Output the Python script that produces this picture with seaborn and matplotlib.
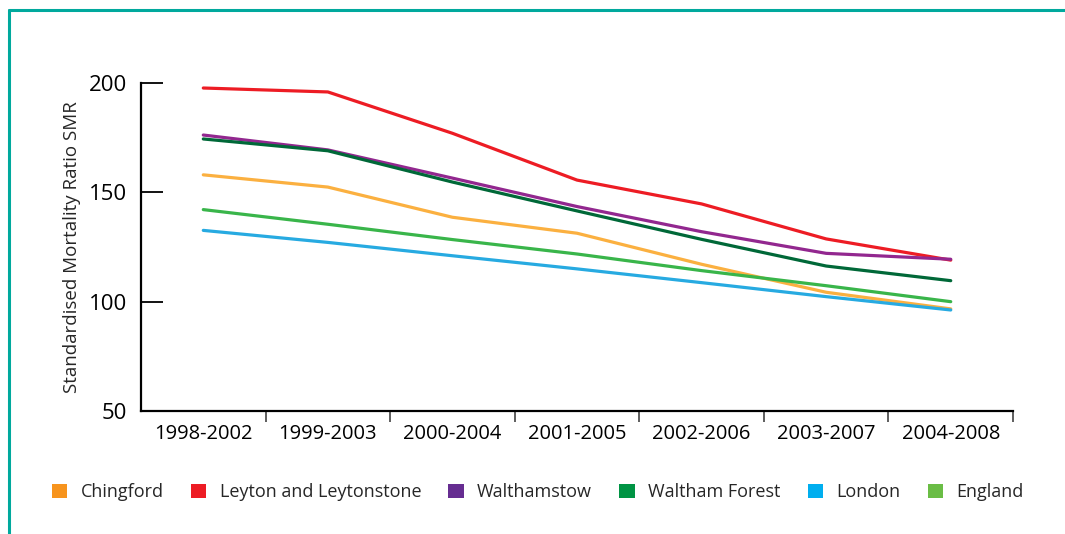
import pandas as pd
import matplotlib.pyplot as plt
import seaborn as sns
from matplotlib.patches import Patch
from matplotlib.lines import Line2D

# data
periods = ["1998-2002", "1999-2003", "2000-2004", "2001-2005", "2002-2006", "2003-2007", "2004-2008"]
chingford = [158.0, 152.4, 138.6, 131.3, 117.1, 104.3, 96.7]
leyton = [197.7, 195.9, 177.0, 155.6, 144.7, 128.7, 119.0]
walthamstow = [176.2, 169.4, 156.5, 143.5, 132.0, 122.1, 119.4]
waltham_forest = [174.4, 169.0, 154.7, 141.5, 128.5, 116.3, 109.6]
london = [132.6, 127.1, 121.0, 115.0, 108.7, 102.3, 96.2]
england = [142.1, 135.4, 128.4, 121.8, 114.2, 107.3, 100.0]

areas = ["Chingford", "Leyton and Leytonstone", "Walthamstow", "Waltham Forest", "London", "England"]
line_colors = ["#FBB040", "#ED1C24", "#92278F", "#006838", "#27AAE1", "#39B54A"]
patch_colors = ["#F7941D", "#ED1C24", "#662D91", "#009444", "#00AEEF", "#6ABD45"]

series = [chingford, leyton, walthamstow, waltham_forest, london, england]
rows = []
for name, vals in zip(areas, series):
    for i, v in enumerate(vals):
        rows.append({"pos": i, "period": periods[i], "area": name, "smr": v})
df = pd.DataFrame(rows)

sns.set_style("white")
plt.rcParams["font.family"] = ["Open Sans", "DejaVu Sans"]

fig = plt.figure(figsize=(10.65, 5.34), dpi=100)
ax = fig.add_axes([0.1324, 0.2303, 0.8188, 0.6143])

sns.lineplot(data=df, x="pos", y="smr", hue="area", hue_order=areas,
             palette=line_colors, linewidth=2.3, legend=False, ax=ax)

ax.set_xlim(-0.5, 6.5)
ax.set_ylim(50, 200)
ax.set_yticks([50, 100, 150, 200])
ax.set_xticks(range(len(periods)))
ax.set_xticklabels(periods)
ax.set_xticks([i + 0.5 for i in range(len(periods))], minor=True)
ax.tick_params(axis="y", direction="in", length=16, width=1.3, labelsize=16, pad=10, left=True, colors="black")
ax.tick_params(axis="x", which="major", length=0, labelsize=14.5, pad=9, colors="black")
ax.tick_params(axis="x", which="minor", direction="out", length=8, width=1.1, bottom=True, color="#333333")
ax.set_xlabel("")
ax.set_ylabel("Standardised Mortality Ratio SMR", fontsize=13.5, labelpad=6)

for s in ["top", "right"]:
    ax.spines[s].set_visible(False)
for s in ["left", "bottom"]:
    ax.spines[s].set_color("black")
    ax.spines[s].set_linewidth(1.6)

handles = [Patch(facecolor=c, edgecolor="none") for c in patch_colors]
fig.legend(handles, areas, loc="center", bbox_to_anchor=(0.505, 0.078), ncol=6,
           frameon=False, fontsize=13, handlelength=0.85, handleheight=0.85,
           handletextpad=0.75, columnspacing=1.5)

# teal frame on left and top
teal = "#00A99D"
fig.add_artist(Line2D([9 / 1065, 9 / 1065], [0, 1 - 10 / 534], color=teal, lw=2.2, transform=fig.transFigure))
fig.add_artist(Line2D([9 / 1065, 1], [1 - 10 / 534, 1 - 10 / 534], color=teal, lw=2.2, transform=fig.transFigure))

fig.savefig("out.png", dpi=100)
